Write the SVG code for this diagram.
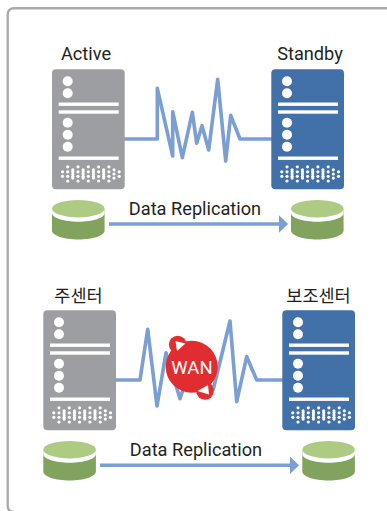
<svg xmlns="http://www.w3.org/2000/svg" xmlns:xlink="http://www.w3.org/1999/xlink" width="387" height="511" viewBox="0 0 387 511">
<style>
.t{font-family:Roboto,"Noto Sans CJK KR",sans-serif;font-size:18.200px;fill:#231f20;text-anchor:middle}
.k{font-family:"Noto Sans CJK KR",sans-serif;font-size:17.500px;fill:#231f20;text-anchor:middle}
.z{fill:none;stroke:#7b9ed3;stroke-width:3.6;stroke-linejoin:round;stroke-linecap:round}
.a{fill:none;stroke:#7b9ed3;stroke-width:3.6}
.h{fill:#7b9ed3}
.w{fill:#fff}
.g{fill:#9d9ea1}.b{fill:#4270a8}
</style>
<defs>
<g id="face">
<circle class="w" cx="15.7" cy="12" r="5"/><circle class="w" cx="15.7" cy="24" r="5"/>
<rect class="w" x="6.7" y="33.2" width="60" height="3.4"/><rect class="w" x="6.7" y="41" width="60" height="3.4"/>
<circle class="w" cx="15.7" cy="53.5" r="5"/><circle class="w" cx="15.7" cy="65.5" r="5"/><circle class="w" cx="15.7" cy="77.5" r="5"/>
<rect class="w" x="6.7" y="87.2" width="60" height="3.4"/>
<g id="dots" fill="#fff">
<g id="col"><circle cx="15.7" cy="97.5" r="1.6"/><circle cx="15.7" cy="102.5" r="1.6"/><circle cx="15.7" cy="107" r="1.6"/><circle cx="15.7" cy="111.7" r="1.6"/><circle cx="10.5" cy="102.5" r="1.6"/><circle cx="10.5" cy="107" r="1.6"/><circle cx="20.8" cy="100.5" r="1.6"/><circle cx="20.8" cy="104.7" r="1.6"/><circle cx="20.8" cy="108.8" r="1.6"/></g>
<use xlink:href="#col" href="#col" x="10.3"/><use xlink:href="#col" href="#col" x="20.6"/><use xlink:href="#col" href="#col" x="30.9"/><use xlink:href="#col" href="#col" x="41.2"/>
<circle cx="67.2" cy="102.5" r="1.6"/><circle cx="67.2" cy="107" r="1.6"/>
</g>
</g>
<g id="cyl">
<path d="M0 9V30.5C0 35.5 12 39.5 26.3 39.5S52.6 35.5 52.6 30.5V9Z" fill="#82a35e"/>
<path d="M0 8.7V13C0 18 12 21.7 26.3 21.7S52.6 18 52.6 13V8.7Z" fill="#fff"/>
<ellipse cx="26.3" cy="8.7" rx="26.3" ry="8.7" fill="#aecb84"/>
</g>
<path id="head" class="h" d="M0-8.7L9 0L0 8.7Z"/>
</defs>
<rect x="7.7" y="8.2" width="400" height="504" rx="6" fill="#fff" stroke="#a9aaac" stroke-width="2.4"/>
<g id="connectors">
<path class="z" d="M124.7 139H157.3V88.3L172.7 156V111.7L182.3 157.700L192.3 112.3L196.7 143.3L202 125.7L208.7 150L217.7 79.3L225.7 161L230.7 115.3L240 139H271.3"/>
<path class="a" d="M109 224H280"/><use xlink:href="#head" href="#head" x="279" y="224"/>
<path class="z" d="M116 380H140L147.7 329.3L157 406L166 352.7L180 398.7L192 362L213.3 389.3L230 321L236.700 401.7L246.7 356.7L256.7 380H282.3"/>
<path class="a" d="M100 465.3H291"/><use xlink:href="#head" href="#head" x="290" y="465.3"/>
</g>
<g id="active"><rect class="g" x="52" y="69.3" width="72.7" height="120" rx="4"/><use xlink:href="#face" href="#face" x="52" y="69.3"/><text class="t" x="86" y="60">Active</text></g>
<g id="standby"><rect class="b" x="271.3" y="69.3" width="72.7" height="120" rx="4"/><use xlink:href="#face" href="#face" x="271.3" y="69.3"/><text class="t" x="310" y="60">Standby</text></g>
<g id="db1"><use xlink:href="#cyl" href="#cyl" x="52" y="200"/></g>
<g id="db2"><use xlink:href="#cyl" href="#cyl" x="291" y="200"/></g>
<text class="t" x="195" y="215">Data Replication</text>
<g id="main-center"><rect class="g" x="43.3" y="310.3" width="72.7" height="120" rx="4"/><use xlink:href="#face" href="#face" x="43.3" y="310.3"/><text class="k" x="78.500" y="301.500">주센터</text></g>
<g id="sub-center"><rect class="b" x="282.3" y="310.3" width="72.7" height="120" rx="4"/><use xlink:href="#face" href="#face" x="282.3" y="310.3"/><text class="k" x="318.500" y="301.500">보조센터</text></g>
<g id="db3"><use xlink:href="#cyl" href="#cyl" x="43.3" y="441"/></g>
<g id="db4"><use xlink:href="#cyl" href="#cyl" x="302.3" y="441"/></g>
<text class="t" x="196" y="456">Data Replication</text>
<g id="wan">
<circle cx="191.7" cy="366.7" r="26" fill="#e12d2f"/>
<circle cx="177.7" cy="344.5" r="8.8" fill="#e12d2f"/>
<circle cx="205" cy="391" r="8.8" fill="#e12d2f"/>
<path class="w" d="M185.500 343.500L175.500 341L177 351Z"/>
<path class="w" d="M197.500 391L208 385L209 394.500Z"/>
<text x="192" y="373.500" font-family="Roboto,sans-serif" font-size="18.500" fill="#fff" text-anchor="middle">WAN</text>
</g>
</svg>
